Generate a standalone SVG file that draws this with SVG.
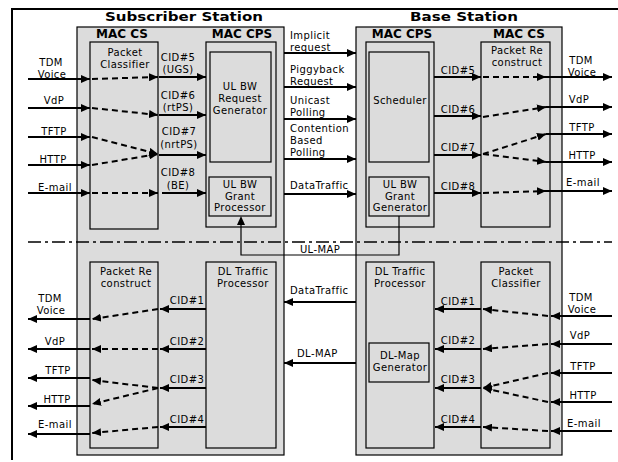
<svg xmlns="http://www.w3.org/2000/svg" width="618" height="462" viewBox="0 0 618 462">
<style>
.box{fill:#dcdcdc;stroke:#000;stroke-width:1.2}
.t{font-family:"DejaVu Sans",sans-serif;font-size:10px;letter-spacing:0.4px;fill:#000}
.m{text-anchor:middle}
.h{font-family:"DejaVu Sans",sans-serif;font-weight:bold;font-size:12px;text-anchor:middle;fill:#000}
.ttl{font-family:"DejaVu Sans",sans-serif;font-weight:bold;font-size:13px;text-anchor:middle;fill:#000}
.s{fill:none;stroke:#000;stroke-width:2;marker-end:url(#ah)}
.d{fill:none;stroke:#000;stroke-width:2;stroke-dasharray:6 4;marker-end:url(#ah)}
.thin{fill:none;stroke:#000;stroke-width:1.2}
</style>
<defs>
<marker id="ah" markerUnits="userSpaceOnUse" markerWidth="9" markerHeight="8" refX="9" refY="4" orient="auto"><path d="M0,0 L9,4 L0,8 z" fill="#000"/></marker>
</defs>
<rect width="618" height="462" fill="#fff"/>
<g id="frame">
<path d="M12,460 L12,9 L618,9" fill="none" stroke="#000" stroke-width="2"/>
<text class="ttl" x="184" y="21" textLength="158" lengthAdjust="spacingAndGlyphs">Subscriber Station</text>
<text class="ttl" x="464" y="21" textLength="108" lengthAdjust="spacingAndGlyphs">Base Station</text>
</g>
<g id="subscriber-station">
<rect class="box" x="77" y="27" width="207" height="428"/>
<text class="h" x="122" y="38">MAC CS</text>
<text class="h" x="242" y="38">MAC CPS</text>
</g>
<g id="base-station">
<rect class="box" x="356" y="27" width="206" height="428"/>
<text class="h" x="402" y="38">MAC CPS</text>
<text class="h" x="519" y="38">MAC CS</text>
</g>
<g id="ss-packet-classifier">
<rect class="box" x="90" y="42" width="68" height="187"/>
<text class="t m" x="125" y="56">Packet</text>
<text class="t m" x="125" y="68">Classifier</text>
</g>
<g id="ss-mac-cps-ul">
<rect class="box" x="206" y="42" width="70" height="185"/>
</g>
<g id="ul-bw-request-generator">
<rect class="box" x="210" y="52" width="61" height="110"/>
<text class="t m" x="240" y="90">UL BW</text>
<text class="t m" x="240" y="102">Request</text>
<text class="t m" x="240" y="114">Generator</text>
</g>
<g id="ul-bw-grant-processor">
<rect class="box" x="209" y="177" width="62" height="39"/>
<text class="t m" x="240" y="188">UL BW</text>
<text class="t m" x="240" y="199.5">Grant</text>
<text class="t m" x="240" y="211">Processor</text>
</g>
<g id="bs-mac-cps-ul">
<rect class="box" x="366" y="42" width="68" height="185"/>
</g>
<g id="scheduler">
<rect class="box" x="369" y="52" width="60" height="110"/>
<text class="t m" x="400" y="104">Scheduler</text>
</g>
<g id="ul-bw-grant-generator">
<rect class="box" x="369" y="177" width="60" height="39"/>
<text class="t m" x="400" y="188">UL BW</text>
<text class="t m" x="400" y="199.5">Grant</text>
<text class="t m" x="400" y="211">Generator</text>
</g>
<g id="bs-packet-reconstruct">
<rect class="box" x="481" y="42" width="69" height="185"/>
<text class="t m" x="517" y="54">Packet Re</text>
<text class="t m" x="517" y="66">construct</text>
</g>
<g id="ss-packet-reconstruct">
<rect class="box" x="90" y="262" width="68" height="186"/>
<text class="t m" x="126" y="275">Packet Re</text>
<text class="t m" x="126" y="287">construct</text>
</g>
<g id="ss-dl-traffic-processor">
<rect class="box" x="206" y="262" width="70" height="186"/>
<text class="t m" x="243" y="275">DL Traffic</text>
<text class="t m" x="243" y="287">Processor</text>
</g>
<g id="bs-dl-traffic-processor">
<rect class="box" x="366" y="262" width="68" height="186"/>
<text class="t m" x="400" y="275">DL Traffic</text>
<text class="t m" x="400" y="287">Processor</text>
</g>
<g id="dl-map-generator">
<rect class="box" x="369" y="343" width="60" height="39"/>
<text class="t m" x="400" y="359">DL-Map</text>
<text class="t m" x="400" y="371">Generator</text>
</g>
<g id="bs-packet-classifier">
<rect class="box" x="481" y="262" width="69" height="186"/>
<text class="t m" x="516" y="275">Packet</text>
<text class="t m" x="516" y="287">Classifier</text>
</g>
<g id="connectors">
<path d="M28,242 L612,242" fill="none" stroke="#000" stroke-width="1.5" stroke-dasharray="13 4 3 4"/>
<path class="s" d="M28,79 L90,79"/>
<path class="s" d="M28,108 L90,108"/>
<path class="s" d="M28,137 L90,137"/>
<path class="s" d="M28,165 L90,165"/>
<path class="s" d="M28,193 L90,193"/>
<path class="d" d="M92,79 L158,77"/>
<path class="d" d="M92,108 L158,115"/>
<path class="d" d="M92,137 L158,154"/>
<path class="d" d="M92,165 L158,154"/>
<path class="d" d="M92,193 L158,193"/>
<path class="s" d="M159,77 L206,77"/>
<path class="s" d="M159,115 L206,115"/>
<path class="s" d="M159,155 L206,155"/>
<path class="s" d="M162,193 L206,193"/>
<path class="s" d="M284,53 L356,53"/>
<path class="s" d="M284,87 L356,87"/>
<path class="s" d="M284,119 L356,119"/>
<path class="s" d="M284,159 L356,159"/>
<path class="s" d="M284,194 L356,194"/>
<path class="s" d="M434,77 L481,77"/>
<path class="s" d="M434,116 L481,116"/>
<path class="s" d="M434,155 L481,155"/>
<path class="s" d="M434,193 L481,193"/>
<path class="d" d="M483,77 L546,77"/>
<path class="d" d="M483,117 L546,107"/>
<path class="d" d="M483,154 L546,134"/>
<path class="d" d="M483,154 L546,162"/>
<path class="d" d="M483,193 L546,191"/>
<path class="s" d="M546,77 L612,77"/>
<path class="s" d="M546,107 L612,107"/>
<path class="s" d="M546,134 L612,134"/>
<path class="s" d="M546,162 L612,162"/>
<path class="s" d="M546,191 L612,191"/>
<path class="thin" d="M399,216 L399,255 L241,255 L241,224"/>
<path d="M241,216 L237,225 L245,225 z" fill="#000"/>
<path class="s" d="M206,309 L160,309"/>
<path class="s" d="M206,349 L160,349"/>
<path class="s" d="M206,388 L160,388"/>
<path class="s" d="M206,427 L160,427"/>
<path class="d" d="M158,309 L92,319"/>
<path class="d" d="M158,349 L92,349"/>
<path class="d" d="M158,388 L92,380"/>
<path class="d" d="M158,388 L92,404"/>
<path class="d" d="M158,427 L92,433"/>
<path class="s" d="M90,319 L28,319"/>
<path class="s" d="M90,349 L28,349"/>
<path class="s" d="M90,378 L28,378"/>
<path class="s" d="M90,406 L28,406"/>
<path class="s" d="M90,434 L28,434"/>
<path class="s" d="M356,302 L284,302"/>
<path class="s" d="M356,363 L284,363"/>
<path class="s" d="M612,316 L551,316"/>
<path class="s" d="M612,344 L551,344"/>
<path class="s" d="M612,373 L551,373"/>
<path class="s" d="M612,402 L551,402"/>
<path class="s" d="M612,431 L551,431"/>
<path class="d" d="M548,316 L483,309"/>
<path class="d" d="M548,344 L483,349"/>
<path class="d" d="M548,373 L483,388"/>
<path class="d" d="M548,402 L483,388"/>
<path class="d" d="M548,431 L483,427"/>
<path class="s" d="M481,309 L435,309"/>
<path class="s" d="M481,349 L435,349"/>
<path class="s" d="M481,388 L435,388"/>
<path class="s" d="M481,427 L435,427"/>
</g>
<g id="labels">
<text class="t m" x="51" y="66">TDM</text>
<text class="t m" x="52" y="78">Voice</text>
<text class="t m" x="54" y="104">VdP</text>
<text class="t m" x="54" y="135">TFTP</text>
<text class="t m" x="53" y="163">HTTP</text>
<text class="t m" x="55" y="191">E-mail</text>
<text class="t m" x="178" y="61">CID#5</text>
<text class="t m" x="178" y="73">(UGS)</text>
<text class="t m" x="178" y="99">CID#6</text>
<text class="t m" x="178" y="111">(rtPS)</text>
<text class="t m" x="179" y="135">CID#7</text>
<text class="t m" x="179" y="148">(nrtPS)</text>
<text class="t m" x="178" y="176">CID#8</text>
<text class="t m" x="178" y="189">(BE)</text>
<text class="t" x="290" y="39">Implicit</text>
<text class="t" x="290" y="51">request</text>
<text class="t" x="290" y="73">Piggyback</text>
<text class="t" x="290" y="85">Request</text>
<text class="t" x="290" y="104">Unicast</text>
<text class="t" x="290" y="116">Polling</text>
<text class="t" x="290" y="132">Contention</text>
<text class="t" x="290" y="144">Based</text>
<text class="t" x="290" y="156">Polling</text>
<text class="t" x="290" y="189">DataTraffic</text>
<text class="t m" x="458" y="74">CID#5</text>
<text class="t m" x="458" y="113">CID#6</text>
<text class="t m" x="458" y="151">CID#7</text>
<text class="t m" x="458" y="190">CID#8</text>
<text class="t m" x="581" y="64">TDM</text>
<text class="t m" x="582" y="76">Voice</text>
<text class="t m" x="579" y="103">VdP</text>
<text class="t m" x="582" y="131">TFTP</text>
<text class="t m" x="582" y="159">HTTP</text>
<text class="t m" x="583" y="186">E-mail</text>
<text class="t m" x="320" y="253">UL-MAP</text>
<text class="t m" x="50" y="302">TDM</text>
<text class="t m" x="51" y="314">Voice</text>
<text class="t m" x="55" y="345">VdP</text>
<text class="t m" x="58" y="374">TFTP</text>
<text class="t m" x="57" y="403">HTTP</text>
<text class="t m" x="55" y="428">E-mail</text>
<text class="t m" x="187" y="304">CID#1</text>
<text class="t m" x="187" y="345">CID#2</text>
<text class="t m" x="187" y="383">CID#3</text>
<text class="t m" x="187" y="423">CID#4</text>
<text class="t" x="290" y="294">DataTraffic</text>
<text class="t" x="297" y="357">DL-MAP</text>
<text class="t m" x="458" y="305">CID#1</text>
<text class="t m" x="458" y="344">CID#2</text>
<text class="t m" x="458" y="383">CID#3</text>
<text class="t m" x="458" y="423">CID#4</text>
<text class="t m" x="581" y="301">TDM</text>
<text class="t m" x="582" y="313">Voice</text>
<text class="t m" x="580" y="339">VdP</text>
<text class="t m" x="583" y="370">TFTP</text>
<text class="t m" x="583" y="399">HTTP</text>
<text class="t m" x="584" y="427">E-mail</text>
</g>
</svg>
